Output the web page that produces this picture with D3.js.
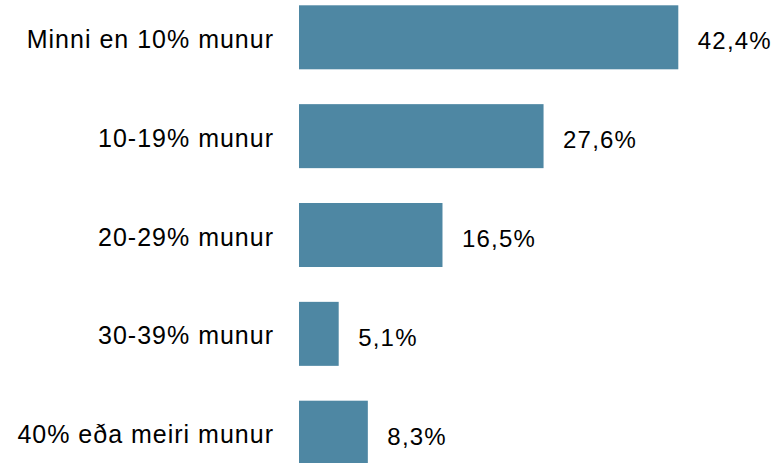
<!DOCTYPE html>
<html>
<head>
<meta charset="utf-8">
<script src="https://cdn.jsdelivr.net/npm/d3@7/dist/d3.min.js"></script>
<style>
  html, body { margin: 0; padding: 0; background: #fff; }
  svg { display: block; }
  text { font-family: "Liberation Sans", Arial, sans-serif; fill: #000; }
  .cat { font-size: 25px; letter-spacing: 1px; }
  .val { font-size: 24px; letter-spacing: 1.2px; }
</style>
</head>
<body>
<svg id="chart" width="780" height="463"></svg>
<script>
const categories = [
  "Minni en 10% munur",
  "10-19% munur",
  "20-29% munur",
  "30-39% munur",
  "40% eða meiri munur"
];
const values = [42.4, 27.6, 16.5, 5.1, 8.3];
const valueLabels = ["42,4%", "27,6%", "16,5%", "5,1%", "8,3%"];

const width = 780, height = 463;
const axisMin = 0.74;   // value axis starts slightly above zero
const svg = d3.select("#chart");

const x = d3.scaleLinear()
  .domain([axisMin, 42.4])
  .range([299, 678.3]);

const y = d3.scaleBand()
  .domain(categories)
  .range([5.3, 464.7])
  .paddingInner(0.3525)
  .paddingOuter(0);

const rows = categories.map((c, i) => ({ cat: c, value: values[i], label: valueLabels[i] }));

// bars
svg.append("g")
  .selectAll("rect")
  .data(rows)
  .join("rect")
  .attr("x", x(axisMin))
  .attr("y", d => y(d.cat))
  .attr("width", d => x(d.value) - x(axisMin))
  .attr("height", y.bandwidth())
  .attr("fill", "#4e87a3");

// category labels
svg.append("g")
  .selectAll("text")
  .data(rows)
  .join("text")
  .attr("class", "cat")
  .attr("x", x(axisMin) - 25)
  .attr("y", d => y(d.cat) + y.bandwidth() / 2 + 10.5)
  .attr("text-anchor", "end")
  .text(d => d.cat);

// value labels
svg.append("g")
  .selectAll("text")
  .data(rows)
  .join("text")
  .attr("class", "val")
  .attr("x", d => x(d.value) + 19.5)
  .attr("y", d => y(d.cat) + y.bandwidth() / 2 + 12)
  .text(d => d.label);
</script>
</body>
</html>
